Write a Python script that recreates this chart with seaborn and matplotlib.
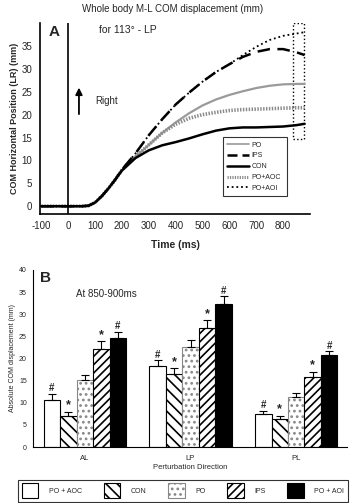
import numpy as np
import pandas as pd
import seaborn as sns
import matplotlib.pyplot as plt
from matplotlib.patches import Patch, Rectangle
from matplotlib.lines import Line2D

sns.set_style('white')
plt.rcParams['font.family'] = ['Liberation Sans', 'DejaVu Sans']
plt.rcParams['hatch.linewidth'] = 1.2
plt.rcParams['axes.unicode_minus'] = False

# panel A: COM horizontal position over time (mm)
time_ms = [-100, 0, 50, 75, 100, 125, 150, 175, 200, 250, 300, 350, 400, 450,
           500, 550, 600, 650, 700, 750, 800, 850, 880]
con = [0, 0, 0, 0.1, 0.8, 2.2, 3.9, 5.8, 7.8, 10.5, 12.2, 13.3, 14.0, 14.8,
       15.7, 16.5, 17.0, 17.2, 17.2, 17.3, 17.4, 17.7, 18.0]
po = [0, 0, 0, 0.1, 0.8, 2.2, 3.9, 5.8, 7.9, 10.8, 13.4, 16.0, 18.3, 20.3,
      22.0, 23.3, 24.3, 25.1, 25.8, 26.3, 26.6, 26.7, 26.7]
po_aoc = [0, 0, 0, 0.1, 0.8, 2.2, 3.9, 5.8, 7.9, 10.7, 13.4, 16.0, 17.9, 19.2,
          20.0, 20.5, 20.9, 21.1, 21.2, 21.3, 21.4, 21.5, 21.5]
ips = [0, 0, 0, 0.1, 0.8, 2.2, 3.9, 5.8, 8.0, 11.5, 15.5, 19.0, 22.2, 24.8,
       27.2, 29.3, 31.0, 32.6, 33.7, 34.3, 34.3, 33.6, 33.0]
po_aoi = [0, 0, 0, 0.1, 0.8, 2.2, 3.9, 5.8, 8.0, 11.5, 15.5, 19.0, 22.2, 24.8,
          27.2, 29.3, 31.0, 33.0, 34.8, 36.3, 37.2, 37.7, 38.0]

# panel B: absolute COM displacement at 850-900ms
directions = ['AL', 'LP', 'PL']
conditions = ['PO + AOC', 'CON', 'PO', 'IPS', 'PO + AOI']
means = {
    'AL': [10.7, 7.0, 15.2, 22.1, 24.7],
    'LP': [18.2, 16.6, 22.5, 26.9, 32.4],
    'PL': [7.4, 6.3, 11.4, 15.9, 20.8],
}
sems = {
    'AL': [1.3, 1.0, 1.0, 1.8, 1.4],
    'LP': [1.4, 1.2, 1.7, 1.7, 1.7],
    'PL': [0.8, 0.8, 0.8, 1.1, 0.9],
}
marks = ['#', '*', '', '*', '#']

fig = plt.figure(figsize=(3.52, 5.03), dpi=100)

# ---------------- panel A
axA = fig.add_axes([40/352, 1-214/503, 270/352, 191/503])
dfA = pd.DataFrame({'t': time_ms, 'CON': con, 'PO': po, 'PO+AOC': po_aoc,
                    'IPS': ips, 'PO+AOI': po_aoi})
sns.lineplot(data=dfA, x='t', y='PO', ax=axA, color='#9a9a9a', lw=1.6)
sns.lineplot(data=dfA, x='t', y='PO+AOC', ax=axA, color='#8a8a8a', lw=2.6,
             linestyle=(0, (0.4, 0.4)))
sns.lineplot(data=dfA, x='t', y='CON', ax=axA, color='black', lw=1.8)
sns.lineplot(data=dfA, x='t', y='PO+AOI', ax=axA, color='black', lw=1.3,
             linestyle=(0, (1, 1.6)))
sns.lineplot(data=dfA, x='t', y='IPS', ax=axA, color='black', lw=1.8,
             linestyle=(0, (5, 3)))
axA.set_xlim(-105, 900)
axA.set_ylim(-1.7, 40)
axA.set_xticks(range(-100, 900, 100))
axA.set_yticks(range(0, 40, 5))
axA.set_xlabel('')
axA.set_ylabel('COM Horizontal Position (LR) (mm)', fontsize=6.5,
               fontweight='bold', labelpad=2)
axA.tick_params(axis='x', direction='in', length=4, width=1, labelsize=7, pad=5)
axA.tick_params(axis='y', direction='inout', length=7, width=1, labelsize=7, pad=2)
for s in ['top', 'right']:
    axA.spines[s].set_visible(False)
for s in ['left', 'bottom']:
    axA.spines[s].set_color('black')
    axA.spines[s].set_linewidth(1.2)
axA.axvline(0, color='black', lw=1.2)
axA.add_patch(Rectangle((838, 14.6), 40, 25.4, fill=False, ls=':', lw=1.0,
                        ec='black'))
axA.annotate('', xy=(40, 26.5), xytext=(40, 19.5),
             arrowprops=dict(arrowstyle='-|>', color='black', lw=1.3))
axA.text(100, 23, 'Right', fontsize=7, va='center')
axA.text(-52, 38, 'A', fontsize=11, fontweight='bold', ha='center', va='center')
axA.text(115, 38.5, 'for 113° - LP', fontsize=7.5, va='center')
handlesA = [
    Line2D([], [], color='#9a9a9a', lw=1.2),
    Line2D([], [], color='black', lw=1.8, ls=(0, (4, 2))),
    Line2D([], [], color='black', lw=1.8),
    Line2D([], [], color='#8a8a8a', lw=2.2, ls=(0, (0.4, 0.4))),
    Line2D([], [], color='black', lw=1.3, ls=(0, (1, 1.6))),
]
legA = axA.legend(handlesA, ['PO', 'IPS', 'CON', 'PO+AOC', 'PO+AOI'],
                  loc='lower left', bbox_to_anchor=(0.678, 0.094, 0.237, 0.304),
                  mode='expand', fontsize=5, frameon=True, fancybox=False,
                  handlelength=3.2, handletextpad=0.3, labelspacing=0.55,
                  borderpad=0.6, borderaxespad=0)
legA.get_frame().set_edgecolor('black')
legA.get_frame().set_linewidth(0.8)
fig.text(173/352, 1-9/503, 'Whole body M-L COM displacement (mm)', fontsize=7,
         ha='center', va='center')
fig.text(175/352, 1-245/503, 'Time (ms)', fontsize=7.5, fontweight='bold',
         ha='center', va='center')

# ---------------- panel B
axB = fig.add_axes([33/352, 1-447/503, 314/352, 177/503])
rows = []
for d in directions:
    for c, m, e in zip(conditions, means[d], sems[d]):
        rows.append({'direction': d, 'condition': c, 'value': m, 'sem': e})
dfB = pd.DataFrame(rows)
sns.barplot(data=dfB, x='direction', y='value', hue='condition',
            order=directions, hue_order=conditions, errorbar=None,
            width=0.78, ax=axB, legend=False)
fills = ['white', 'white', 'white', 'white', 'black']
hatches = ['', '\\\\\\', '...', '////', '']
bar_groups = list(axB.containers)
for i, cont in enumerate(bar_groups):
    for j, bar in enumerate(cont):
        bar.set_facecolor(fills[i])
        bar.set_edgecolor('black')
        bar.set_linewidth(0.8)
        bar.set_hatch(hatches[i])
        if i == 2:
            bar.set_edgecolor('#888888')
        d = directions[j]
        x = bar.get_x() + bar.get_width() / 2
        h = bar.get_height()
        e = sems[d][i]
        axB.errorbar(x, h, yerr=[[0], [e]], color='black', lw=0.8,
                     capsize=3, capthick=0.8)
        if marks[i]:
            axB.text(x, h + e + 0.1, marks[i], ha='center', va='bottom',
                     fontsize=9 if marks[i] == '*' else 7, fontweight='bold')
axB.set_xlim(-0.49, 2.48)
axB.set_ylim(0, 40)
axB.set_yticks(range(0, 45, 5))
axB.set_xticks([0.5, 1.5], minor=True)
axB.tick_params(axis='x', which='major', length=0, labelsize=5.5, pad=6)
axB.tick_params(axis='x', which='minor', direction='inout', length=3, width=0.8)
axB.tick_params(axis='y', direction='out', length=3, width=0.8, labelsize=5,
                pad=1.5)
for s in ['top', 'right']:
    axB.spines[s].set_visible(False)
for s in ['left', 'bottom']:
    axB.spines[s].set_color('black')
    axB.spines[s].set_linewidth(0.8)
axB.set_xlabel('Perturbation Direction', fontsize=5.5, labelpad=1)
axB.set_ylabel('Absolute COM displacement (mm)', fontsize=5, labelpad=2)
axB.text(-0.42, 38.3, 'B', fontsize=11, fontweight='bold', va='center')
axB.text(-0.08, 34.5, 'At 850-900ms', fontsize=7, va='center')

handlesB = [Patch(facecolor=f, edgecolor='black', hatch=h, lw=0.8)
            for f, h in zip(fills, hatches)]
handlesB[2].set_edgecolor('#888888')
legB = fig.legend(handlesB, conditions, ncol=5, loc='lower left',
                  bbox_to_anchor=(18/352, 1-502/503, 330/352, 26/503),
                  mode='expand', fontsize=5, frameon=True, fancybox=False,
                  handlelength=2.4, handleheight=2.9, handletextpad=1.5,
                  columnspacing=1.0, borderpad=0.55, borderaxespad=0)
legB.get_frame().set_edgecolor('black')
legB.get_frame().set_linewidth(0.8)

fig.savefig('out.png', dpi=100)
